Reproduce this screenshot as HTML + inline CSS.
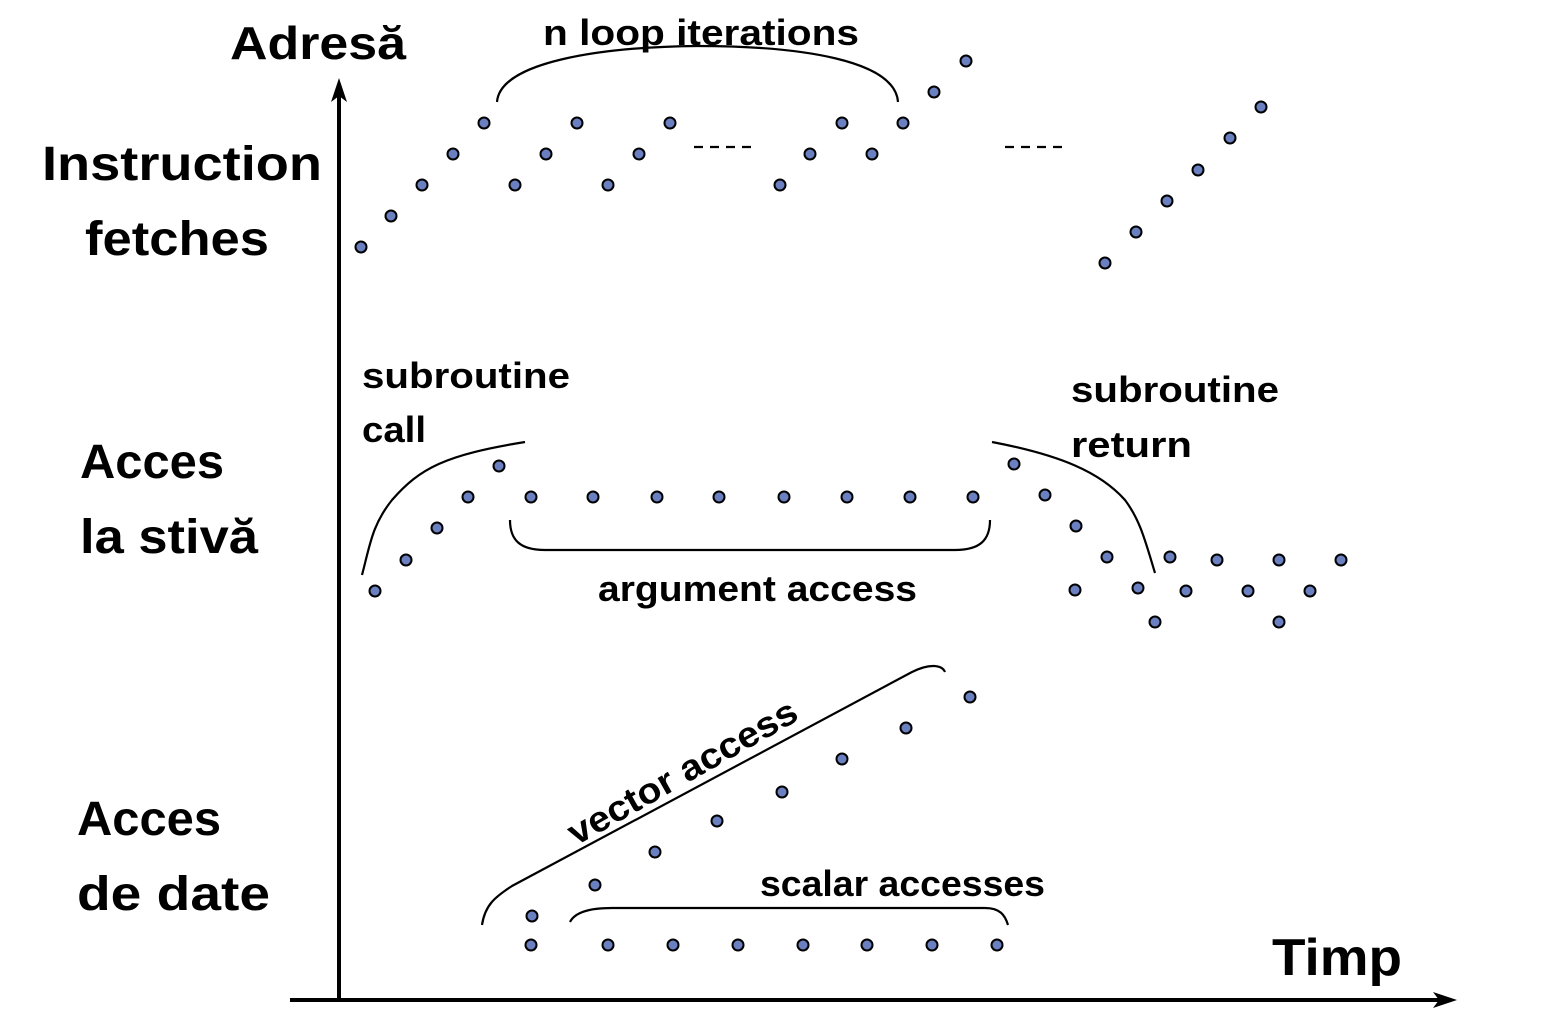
<!DOCTYPE html>
<html><head><meta charset="utf-8"><style>
html,body{margin:0;padding:0;background:#fff;}
svg{display:block;}
text{font-family:"Liberation Sans",sans-serif;font-weight:bold;fill:#000;}
</style></head><body>
<svg width="1548" height="1020" viewBox="0 0 1548 1020" xmlns="http://www.w3.org/2000/svg">
<g stroke="#000" stroke-width="4" fill="none">
<line x1="339" y1="1002" x2="339" y2="95"/>
<line x1="290" y1="1000" x2="1440" y2="1000"/>
</g>
<polygon points="339,78 331,102 339,96 347,102" fill="#000"/>
<polygon points="1457,1000 1433,992 1439,1000 1433,1008" fill="#000"/>
<g stroke="#000" stroke-width="2.2" fill="none">
<path d="M497,102 C500,62 600,47 697,46 C800,46 895,60 898,102"/>
<path d="M362,575 C370,545 372,525 392,500 C420,468 445,455 525,442"/>
<path d="M510,520 C510,540 520,550 545,550 L955,550 C980,550 990,540 990,520"/>
<path d="M992,442 C1060,455 1100,472 1125,500 C1140,520 1145,540 1155,573"/>
<path d="M482,925 C485,905 495,897 512,886 L912,672 C930,663 942,665 945,672"/>
<path d="M570,922 C575,912 590,908 612,908 L985,908 C1000,908 1005,915 1008,925"/>
<line x1="694" y1="147" x2="756" y2="147" stroke-dasharray="9,7"/>
<line x1="1005" y1="147" x2="1067" y2="147" stroke-dasharray="9,7"/>
</g>
<g fill="#6b80c0" stroke="#000" stroke-width="2">
<circle cx="361" cy="247" r="5.5"/><circle cx="391" cy="216" r="5.5"/><circle cx="422" cy="185" r="5.5"/><circle cx="453" cy="154" r="5.5"/><circle cx="484" cy="123" r="5.5"/><circle cx="515" cy="185" r="5.5"/><circle cx="546" cy="154" r="5.5"/><circle cx="577" cy="123" r="5.5"/><circle cx="608" cy="185" r="5.5"/><circle cx="639" cy="154" r="5.5"/><circle cx="670" cy="123" r="5.5"/><circle cx="780" cy="185" r="5.5"/><circle cx="810" cy="154" r="5.5"/><circle cx="842" cy="123" r="5.5"/><circle cx="872" cy="154" r="5.5"/><circle cx="903" cy="123" r="5.5"/><circle cx="934" cy="92" r="5.5"/><circle cx="966" cy="61" r="5.5"/><circle cx="1105" cy="263" r="5.5"/><circle cx="1136" cy="232" r="5.5"/><circle cx="1167" cy="201" r="5.5"/><circle cx="1198" cy="170" r="5.5"/><circle cx="1230" cy="138" r="5.5"/><circle cx="1261" cy="107" r="5.5"/>
<circle cx="375" cy="591" r="5.5"/><circle cx="406" cy="560" r="5.5"/><circle cx="437" cy="528" r="5.5"/><circle cx="468" cy="497" r="5.5"/><circle cx="499" cy="466" r="5.5"/><circle cx="531" cy="497" r="5.5"/><circle cx="593" cy="497" r="5.5"/><circle cx="657" cy="497" r="5.5"/><circle cx="719" cy="497" r="5.5"/><circle cx="784" cy="497" r="5.5"/><circle cx="847" cy="497" r="5.5"/><circle cx="910" cy="497" r="5.5"/><circle cx="973" cy="497" r="5.5"/><circle cx="1014" cy="464" r="5.5"/><circle cx="1045" cy="495" r="5.5"/><circle cx="1076" cy="526" r="5.5"/><circle cx="1107" cy="557" r="5.5"/><circle cx="1075" cy="590" r="5.5"/><circle cx="1138" cy="588" r="5.5"/><circle cx="1155" cy="622" r="5.5"/><circle cx="1170" cy="557" r="5.5"/><circle cx="1186" cy="591" r="5.5"/><circle cx="1217" cy="560" r="5.5"/><circle cx="1248" cy="591" r="5.5"/><circle cx="1279" cy="560" r="5.5"/><circle cx="1279" cy="622" r="5.5"/><circle cx="1310" cy="591" r="5.5"/><circle cx="1341" cy="560" r="5.5"/>
<circle cx="970" cy="697" r="5.5"/><circle cx="906" cy="728" r="5.5"/><circle cx="842" cy="759" r="5.5"/><circle cx="782" cy="792" r="5.5"/><circle cx="717" cy="821" r="5.5"/><circle cx="655" cy="852" r="5.5"/><circle cx="595" cy="885" r="5.5"/><circle cx="532" cy="916" r="5.5"/><circle cx="531" cy="945" r="5.5"/><circle cx="608" cy="945" r="5.5"/><circle cx="673" cy="945" r="5.5"/><circle cx="738" cy="945" r="5.5"/><circle cx="803" cy="945" r="5.5"/><circle cx="867" cy="945" r="5.5"/><circle cx="932" cy="945" r="5.5"/><circle cx="997" cy="945" r="5.5"/>
</g>
<text x="230" y="59" font-size="46" textLength="176" lengthAdjust="spacingAndGlyphs">Adresă</text>
<text x="42" y="180" font-size="48" textLength="280" lengthAdjust="spacingAndGlyphs">Instruction</text>
<text x="85" y="255" font-size="48" textLength="184" lengthAdjust="spacingAndGlyphs">fetches</text>
<text x="80" y="478" font-size="48" textLength="144" lengthAdjust="spacingAndGlyphs">Acces</text>
<text x="80" y="553" font-size="48" textLength="178" lengthAdjust="spacingAndGlyphs">la stivă</text>
<text x="77" y="835" font-size="48" textLength="144" lengthAdjust="spacingAndGlyphs">Acces</text>
<text x="77" y="910" font-size="48" textLength="193" lengthAdjust="spacingAndGlyphs">de date</text>
<text x="1272" y="975" font-size="52" textLength="130" lengthAdjust="spacingAndGlyphs">Timp</text>
<text x="543" y="45" font-size="36" textLength="316" lengthAdjust="spacingAndGlyphs">n loop iterations</text>
<text x="362" y="388" font-size="36" textLength="208" lengthAdjust="spacingAndGlyphs">subroutine</text>
<text x="362" y="442" font-size="36" textLength="64" lengthAdjust="spacingAndGlyphs">call</text>
<text x="1071" y="402" font-size="36" textLength="208" lengthAdjust="spacingAndGlyphs">subroutine</text>
<text x="1071" y="457" font-size="36" textLength="121" lengthAdjust="spacingAndGlyphs">return</text>
<text x="598" y="601" font-size="36" textLength="319" lengthAdjust="spacingAndGlyphs">argument access</text>
<text x="760" y="896" font-size="36" textLength="285" lengthAdjust="spacingAndGlyphs">scalar accesses</text>
<text x="0" y="0" font-size="36" textLength="258" lengthAdjust="spacingAndGlyphs" transform="translate(576,846) rotate(-29.5)">vector access</text>
</svg>
</body></html>
